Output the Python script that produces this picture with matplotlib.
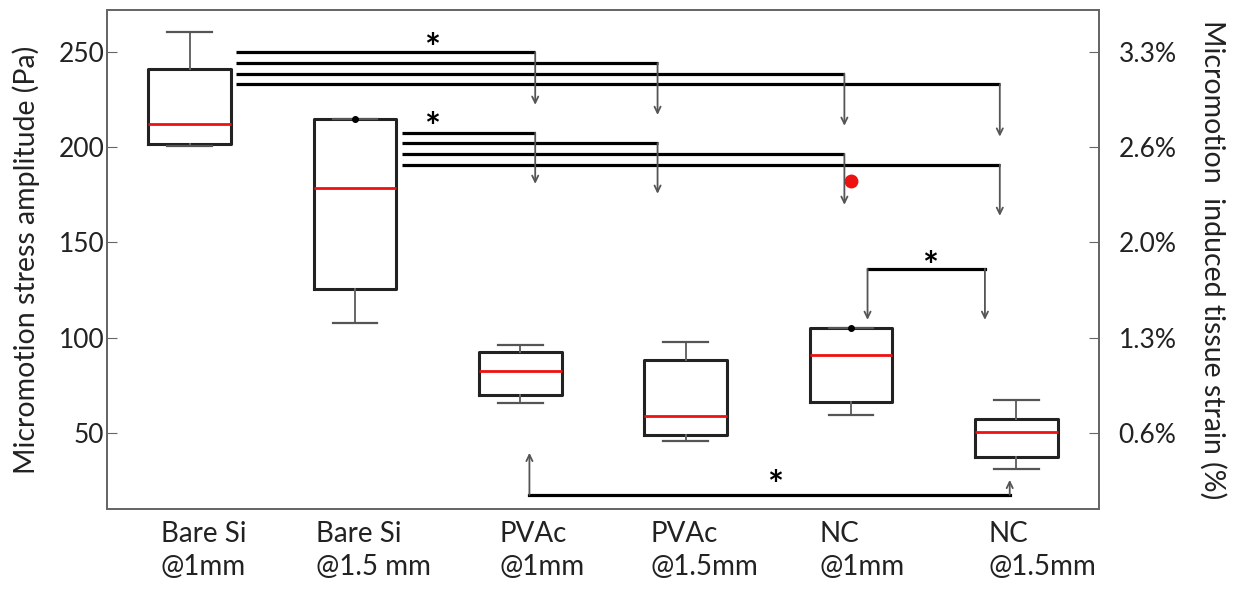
import numpy as np
import matplotlib
matplotlib.use('Agg')
import matplotlib.pyplot as plt
from matplotlib.transforms import offset_copy

plt.rcParams['font.family'] = ['Lato', 'DejaVu Sans']

# box plot data (Pa)
categories = ['Bare Si\n@1mm', 'Bare Si\n@1.5 mm', 'PVAc\n@1mm',
              'PVAc\n@1.5mm', 'NC\n@1mm', 'NC\n@1.5mm']
whisker_low = [200.7, 107.9, 65.6, 45.6, 59.4, 31.0]
q1 = [201.5, 125.6, 69.6, 48.8, 66.3, 37.2]
median = [212.0, 178.8, 82.4, 58.6, 91.1, 50.4]
q3 = [241.1, 214.8, 92.2, 88.2, 104.8, 57.3]
whisker_high = [260.5, 214.8, 96.2, 97.9, 104.8, 67.2]
outliers = [[], [], [], [], [182.4], []]

pa_ticks = [50, 100, 150, 200, 250]
strain_labels = ['0.6%', '1.3%', '2.0%', '2.6%', '3.3%']

# significance brackets
ends_x = [3.09, 3.83, 4.96, 5.90]
g1_start = 1.28
g1_levels = [249.8, 244.1, 238.6, 233.0]
g1_tips = [222.2, 216.9, 211.2, 205.5]
g2_start = 2.285
g2_levels = [207.6, 202.1, 196.5, 190.8]
g2_tips = [180.7, 175.5, 169.7, 163.9]
nc_x = [5.10, 5.81]
nc_level = 136.1
nc_tips = [109.3, 109.3]
low_x = [3.055, 5.96]
low_level = 17.5
low_tips = [39.5, 25.3]
stars = [(2.467, 256.3), (2.467, 214.8), (5.48, 141.9), (4.54, 27.0)]

fig = plt.figure(figsize=(12.41, 5.91), dpi=100)
ax = fig.add_axes([107/1241, 82/591, 992/1241, 499/591])

stats = []
for i in range(len(categories)):
    stats.append(dict(whislo=whisker_low[i], q1=q1[i], med=median[i], q3=q3[i],
                      whishi=whisker_high[i], fliers=outliers[i]))
pos = np.arange(1, len(categories) + 1)
ax.bxp(stats, positions=pos, widths=0.5, capwidths=0.27, manage_ticks=False,
       boxprops=dict(color='#222222', lw=2.2),
       medianprops=dict(color='#ee1111', lw=2),
       whiskerprops=dict(color='#666666', lw=1.4),
       capprops=dict(color='#555555', lw=1.6),
       flierprops=dict(marker='o', markerfacecolor='#ee1111',
                       markeredgecolor='#ee1111', markersize=9))

# collapsed upper whiskers show up as a dot
for i in range(len(categories)):
    if whisker_high[i] == q3[i]:
        ax.plot(pos[i], q3[i], 'o', color='black', markersize=4, zorder=5)


def arrow(x, y0, y1):
    ax.annotate('', xy=(x, y1), xytext=(x, y0),
                arrowprops=dict(arrowstyle='->,head_length=0.45,head_width=0.22',
                                color='#555555', lw=1.3, shrinkA=0, shrinkB=0))


for start, levels, tips in [(g1_start, g1_levels, g1_tips),
                            (g2_start, g2_levels, g2_tips)]:
    for xe, lev, tip in zip(ends_x, levels, tips):
        ax.plot([start, xe], [lev, lev], color='black', lw=2.3,
                solid_capstyle='butt')
        arrow(xe, lev, tip)

ax.plot(nc_x, [nc_level, nc_level], color='black', lw=2.3)
for xe, tip in zip(nc_x, nc_tips):
    arrow(xe, nc_level, tip)

ax.plot(low_x, [low_level, low_level], color='black', lw=2.3)
for xe, tip in zip(low_x, low_tips):
    arrow(xe, low_level, tip)

star_tr = offset_copy(ax.transData, fig=fig, x=0, y=-10, units='dots')
for sx, sy in stars:
    ax.text(sx, sy, '*', fontsize=27, fontweight='bold', ha='center',
            va='center', transform=star_tr)

ax.set_xlim(0.5, 6.5)
ax.set_ylim(10, 272)
ax.set_yticks(pa_ticks)
ax.set_xticks([])
ax.tick_params(axis='y', direction='in', length=7, color='#666666', pad=2,
               labelsize=19, labelcolor='#222222')
for s in ax.spines.values():
    s.set_color('#666666')
    s.set_linewidth(1.3)
ax.set_ylabel('Micromotion stress amplitude (Pa)', fontsize=20.5,
              color='#222222', labelpad=13)

label_x = [0.824, 1.764, 2.873, 3.79, 4.81, 5.83]
for lx, lab in zip(label_x, categories):
    ax.text(lx, -0.025, lab, transform=ax.get_xaxis_transform(), ha='left',
            va='top', fontsize=20, color='#222222', linespacing=1.3)

ax2 = ax.twinx()
ax2.set_ylim(ax.get_ylim())
ax2.set_yticks(pa_ticks)
ax2.set_yticklabels(strain_labels)
ax2.tick_params(axis='y', direction='in', length=7, color='#666666', pad=14,
                labelsize=19, labelcolor='#222222')
for s in ax2.spines.values():
    s.set_color('#666666')
    s.set_linewidth(1.3)
ax2.set_ylabel('Micromotion  induced tissue strain (%)', rotation=270,
               fontsize=20.5, color='#222222', labelpad=36)

fig.savefig('out.png', dpi=100)
